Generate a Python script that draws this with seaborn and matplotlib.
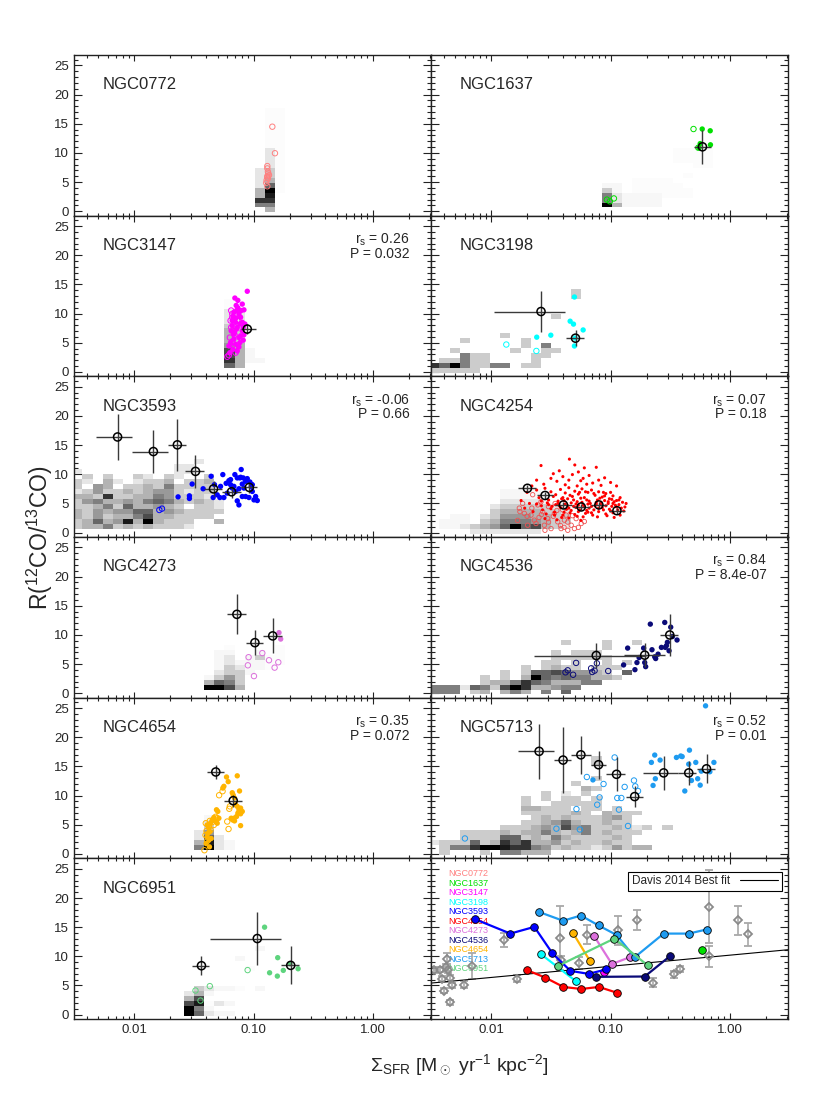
import numpy as np
import seaborn as sns
import matplotlib.pyplot as plt
from matplotlib.ticker import MultipleLocator, FixedLocator, FixedFormatter, LogLocator, NullFormatter
from matplotlib.lines import Line2D

# galaxy order as in the summary list
galaxies = ["NGC0772", "NGC1637", "NGC3147", "NGC3198", "NGC3593", "NGC4254",
            "NGC4273", "NGC4536", "NGC4654", "NGC5713", "NGC6951"]
colors = ["#ff8080", "#00e000", "#ff00ff", "#00ffff", "#0000ff", "#ff0000",
          "#dc70dc", "#0a0a78", "#ffb400", "#1e9bf0", "#5ed47e"]

# spearman stats (r_s, P) shown in some panels
stats_rs = {"NGC3147": "0.26", "NGC3593": "-0.06", "NGC4254": "0.07",
            "NGC4536": "0.84", "NGC4654": "0.35", "NGC5713": "0.52"}
stats_p = {"NGC3147": "0.032", "NGC3593": "0.66", "NGC4254": "0.18",
           "NGC4536": "8.4e-07", "NGC4654": "0.072", "NGC5713": "0.01"}

# binned means: (log10 SFR, R, x err low [dex], x err high [dex], R err)
bin_ngc1637 = [(-0.23, 11.05, 0.07, 0.07, 2.9)]
bin_ngc3147 = [(-1.053, 7.35, 0.056, 0.07, 0.9)]
bin_ngc3198 = [(-1.583, 10.36, 0.392, 0.205, 3.45), (-1.294, 5.79, 0.079, 0.07, 1.4)]
bin_ngc3593 = [(-2.14, 16.4, 0.18, 0.12, 4.0), (-1.84, 13.9, 0.177, 0.12, 3.75),
               (-1.639, 15.05, 0.081, 0.076, 4.5), (-1.487, 10.5, 0.084, 0.07, 2.8),
               (-1.336, 7.5, 0.081, 0.073, 1.3), (-1.185, 7.0, 0.078, 0.076, 1.0),
               (-1.036, 7.75, 0.073, 0.067, 1.0)]
bin_ngc4254 = [(-1.697, 7.6, 0.076, 0.072, 0.6), (-1.549, 6.37, 0.07, 0.07, 0.6),
               (-1.395, 4.75, 0.07, 0.07, 0.5), (-1.246, 4.4, 0.07, 0.07, 0.5),
               (-1.098, 4.75, 0.07, 0.07, 0.5), (-0.947, 3.76, 0.07, 0.07, 0.5)]
bin_ngc4273 = [(-1.14, 13.54, 0.081, 0.073, 3.45), (-0.989, 8.68, 0.078, 0.07, 2.1),
               (-0.84, 9.84, 0.081, 0.079, 3.0)]
bin_ngc4536 = [(-1.12, 6.48, 0.519, 0.42, 2.1), (-0.714, 6.54, 0.174, 0.168, 2.0),
               (-0.504, 10.0, 0.084, 0.07, 3.55)]
bin_ngc4654 = [(-1.317, 14.06, 0.072, 0.068, 1.2), (-1.171, 9.14, 0.078, 0.076, 1.0)]
bin_ngc5713 = [(-1.599, 17.6, 0.18, 0.123, 4.7), (-1.398, 16.1, 0.078, 0.068, 5.7),
               (-1.249, 17.0, 0.081, 0.087, 3.3), (-1.101, 15.3, 0.067, 0.065, 2.4),
               (-0.95, 13.66, 0.086, 0.068, 2.9), (-0.798, 9.84, 0.07, 0.07, 1.85),
               (-0.555, 13.9, 0.173, 0.121, 2.95), (-0.345, 13.9, 0.089, 0.065, 2.0),
               (-0.196, 14.6, 0.076, 0.07, 2.5)]
bin_ngc6951 = [(-1.437, 8.39, 0.078, 0.062, 1.6), (-0.969, 13.05, 0.398, 0.196, 4.6),
               (-0.689, 8.45, 0.084, 0.07, 3.25)]

# individual measurements: (log10 SFR, R); filled = detections, open = others
open_ngc0772 = [(-0.843, 14.5), (-0.821, 9.95), (-0.885, 7.75), (-0.885, 7.35), (-0.88, 6.77),
                (-0.885, 6.02), (-0.88, 5.61), (-0.891, 5.32), (-0.885, 5.79), (-0.871, 6.19),
                (-0.885, 4.28), (-0.894, 4.86), (-0.877, 6.48)]
filled_ngc0772 = []

filled_ngc1637 = [(-0.232, 14.1), (-0.165, 13.8), (-0.249, 11.6), (-0.163, 11.4), (-0.26, 10.9)]
open_ngc1637 = [(-0.305, 14.1), (-1.031, 2.0), (-0.972, 2.2), (-1.006, 1.7), (-0.265, 10.9)]

filled_ngc3147 = [(-1.053, 13.83), (-1.157, 12.67), (-1.132, 12.27), (-1.095, 11.63), (-1.081, 10.65),
                  (-1.146, 11.4), (-1.143, 10.53), (-1.123, 9.95), (-1.109, 9.38), (-1.165, 10.24),
                  (-1.179, 8.8), (-1.151, 8.51), (-1.115, 8.22), (-1.095, 8.51), (-1.137, 7.64),
                  (-1.095, 7.06), (-1.081, 6.37), (-1.087, 5.44), (-1.123, 5.9), (-1.165, 5.61),
                  (-1.188, 7.06), (-1.193, 5.03), (-1.151, 4.75), (-1.123, 4.28), (-1.174, 3.88),
                  (-1.199, 3.3), (-1.137, 3.59), (-1.16, 6.77), (-1.109, 6.19), (-1.179, 7.93),
                  (-1.104, 10.53), (-1.132, 11.0), (-1.171, 9.49), (-1.087, 7.64), (-1.073, 8.22),
                  (-1.207, 4.46), (-1.143, 7.35), (-1.165, 6.48), (-1.115, 5.03), (-1.148, 9.26)]
open_ngc3147 = [(-1.179, 9.38), (-1.193, 8.8), (-1.188, 7.64), (-1.171, 6.94), (-1.16, 6.37),
                (-1.199, 5.9), (-1.179, 5.21), (-1.165, 4.17), (-1.151, 3.3), (-1.207, 2.89),
                (-1.221, 2.6), (-1.188, 10.53), (-1.179, 9.95), (-1.137, 8.8)]

filled_ngc3198 = [(-1.303, 12.85), (-1.339, 8.7), (-1.311, 8.2), (-1.23, 7.2), (-1.501, 6.3),
                  (-1.619, 5.96), (-1.297, 5.8), (-1.303, 4.45)]
open_ngc3198 = [(-1.874, 4.7), (-1.622, 3.6)]

filled_ngc3593 = [(-1.515, 8.33), (-1.423, 7.52), (-1.633, 6.13), (-1.538, 6.31), (-1.538, 5.85),
                  (-1.356, 9.66), (-1.258, 9.95), (-1.207, 8.91), (-1.193, 8.22), (-1.137, 9.38),
                  (-1.104, 10.82), (-1.115, 9.38), (-1.095, 8.33), (-1.081, 7.64), (-1.067, 8.8),
                  (-1.053, 9.26), (-1.031, 8.68), (-1.011, 8.22), (-1.277, 7.93), (-1.249, 6.02),
                  (-1.221, 6.77), (-1.179, 7.64), (-1.151, 7.06), (-1.137, 5.44), (-1.123, 4.75),
                  (-1.095, 6.19), (-1.067, 6.19), (-1.039, 6.02), (-1.011, 7.06), (-0.997, 5.61),
                  (-0.969, 5.5), (-1.305, 6.48), (-1.339, 6.02), (-1.283, 6.02), (-1.328, 8.22),
                  (-1.23, 8.45), (-1.165, 7.93), (-1.087, 9.38), (-1.02, 7.93), (-1.123, 7.52),
                  (-1.193, 9.09), (-1.157, 9.95), (-1.109, 9.49), (-0.983, 6.19)]
open_ngc3593 = [(-1.79, 3.88), (-1.768, 4.11)]

filled_ngc4254 = [(-1.345, 12.6), (-1.583, 11.5), (-1.43, 10.6), (-1.22, 11.1), (-1.12, 11.2),
                  (-1.32, 9.95), (-1.27, 10.4), (-1.40, 9.6), (-1.50, 9.3), (-1.18, 9.8),
                  (-1.05, 9.4), (-1.00, 8.6), (-1.62, 9.0), (-1.45, 8.8), (-1.35, 9.0),
                  (-1.25, 8.9), (-1.15, 8.5), (-1.10, 9.0), (-1.56, 8.3), (-1.38, 8.2),
                  (-1.28, 8.0), (-1.20, 8.3), (-1.08, 8.1), (-0.95, 8.0), (-1.66, 8.0),
                  (-1.48, 10.1), (-1.30, 11.6), (-1.23, 9.3),
                  (-1.70, 6.9), (-1.62, 7.3), (-1.55, 7.6), (-1.50, 7.0), (-1.46, 6.5),
                  (-1.42, 7.4), (-1.38, 6.8), (-1.35, 7.7), (-1.32, 6.2), (-1.30, 7.1),
                  (-1.27, 6.6), (-1.24, 7.5), (-1.22, 6.0), (-1.19, 6.9), (-1.16, 7.3),
                  (-1.13, 6.4), (-1.10, 7.0), (-1.07, 6.1), (-1.04, 6.7), (-1.01, 5.8),
                  (-0.98, 6.3), (-0.95, 5.5), (-0.92, 6.0), (-0.90, 5.2), (-1.60, 6.0),
                  (-1.52, 5.6), (-1.44, 5.4), (-1.36, 5.8), (-1.28, 5.3), (-1.20, 5.6),
                  (-1.12, 5.2), (-1.05, 5.5), (-0.98, 5.0), (-1.48, 6.2), (-1.40, 6.0),
                  (-1.33, 5.1), (-1.25, 5.9), (-1.17, 5.0), (-1.09, 5.9), (-1.02, 5.3),
                  (-1.72, 4.2), (-1.65, 3.6), (-1.58, 4.6), (-1.54, 3.2), (-1.50, 4.1),
                  (-1.47, 3.5), (-1.43, 4.6), (-1.40, 3.0), (-1.37, 4.0), (-1.34, 3.4),
                  (-1.31, 4.5), (-1.28, 2.8), (-1.26, 3.9), (-1.23, 4.7), (-1.21, 3.3),
                  (-1.18, 4.2), (-1.15, 3.0), (-1.13, 4.6), (-1.10, 3.6), (-1.07, 4.3),
                  (-1.04, 3.2), (-1.01, 4.0), (-0.98, 3.4), (-0.95, 4.4), (-0.92, 3.0),
                  (-0.89, 3.7), (-1.55, 2.4), (-1.45, 2.2), (-1.35, 2.5), (-1.25, 2.1),
                  (-1.62, 4.9), (-1.52, 4.8), (-1.38, 4.9), (-1.29, 4.3), (-1.19, 4.9),
                  (-1.08, 4.8), (-0.96, 4.7), (-1.75, 5.5), (-1.68, 5.0), (-1.58, 5.4),
                  (-1.44, 5.0), (-1.42, 4.3), (-1.39, 5.5), (-1.36, 4.6), (-1.33, 3.8),
                  (-1.31, 5.6), (-1.29, 4.9), (-1.27, 3.6), (-1.24, 5.2), (-1.22, 4.4),
                  (-1.20, 3.8), (-1.18, 5.4), (-1.16, 4.5), (-1.14, 3.9), (-1.12, 4.9),
                  (-1.10, 4.2), (-1.08, 5.2), (-1.06, 3.9), (-1.04, 4.6), (-1.02, 5.0),
                  (-1.00, 3.7), (-0.99, 4.5), (-0.97, 5.3), (-0.94, 3.9), (-0.93, 4.8),
                  (-0.91, 4.2), (-1.46, 4.8), (-1.41, 5.8), (-1.34, 6.4), (-1.26, 6.9),
                  (-1.21, 7.0), (-1.14, 6.7), (-1.06, 6.9), (-1.00, 6.9), (-1.47, 3.0),
                  (-1.39, 3.5), (-1.30, 3.1), (-1.23, 2.7), (-1.16, 3.4), (-1.11, 2.7),
                  (-1.03, 2.9), (-0.97, 2.6), (-1.57, 3.9), (-1.53, 5.1), (-1.49, 4.5),
                  (-1.41, 2.6), (-1.35, 4.2), (-1.27, 4.7), (-1.19, 3.5), (-1.11, 5.6),
                  (-1.05, 6.3), (-0.99, 5.7), (-0.93, 5.6), (-0.88, 4.4), (-0.87, 5.0)]
open_ngc4254 = [(-1.765, 4.2), (-1.723, 3.3), (-1.779, 2.1), (-1.667, 3.0), (-1.61, 4.75),
                (-1.625, 1.56), (-1.569, 3.6), (-1.527, 2.4), (-1.471, 3.3), (-1.443, 1.85),
                (-1.387, 2.14), (-1.33, 1.27), (-1.415, 0.69), (-1.359, 0.4), (-1.289, 2.4),
                (-1.246, 1.56), (-1.499, 0.69), (-1.555, 1.27), (-1.695, 1.27), (-1.737, 5.0),
                (-1.653, 6.5), (-1.583, 5.3), (-1.521, 4.46), (-1.465, 5.0), (-1.401, 3.9),
                (-1.639, 2.14), (-1.303, 0.69), (-1.373, 3.0), (-1.70, 2.8), (-1.60, 2.6),
                (-1.52, 1.8), (-1.48, 2.8), (-1.42, 1.2), (-1.36, 1.8), (-1.32, 2.9),
                (-1.27, 0.9), (-1.22, 1.9), (-1.58, 3.1), (-1.66, 4.2), (-1.45, 3.8),
                (-1.39, 0.9), (-1.55, 0.4), (-1.76, 3.6)]

filled_ngc4273 = [(-0.787, 10.4), (-0.773, 9.3)]
open_ngc4273 = [(-1.042, 6.19), (-0.927, 6.89), (-1.048, 4.8), (-0.997, 2.95), (-0.871, 5.67),
                (-0.793, 5.32), (-0.824, 4.4)]

filled_ngc4536 = [(-0.667, 11.86), (-0.546, 12.15), (-0.857, 7.75), (-0.723, 7.75), (-0.653, 7.47),
                  (-0.602, 6.71), (-0.574, 7.87), (-0.532, 8.16), (-0.51, 7.29), (-0.524, 8.74),
                  (-0.443, 9.14), (-0.496, 11.34), (-0.761, 6.13), (-0.779, 5.27), (-0.714, 5.27),
                  (-0.63, 6.25), (-0.622, 5.96), (-0.706, 4.57), (-0.796, 4.05), (-0.891, 4.86),
                  (-0.482, 9.72), (-0.541, 7.87)]
open_ngc4536 = [(-1.289, 5.21), (-1.378, 3.59), (-1.314, 3.18), (-1.359, 3.94), (-1.163, 4.28),
                (-1.154, 3.65), (-1.115, 5.15), (-1.02, 3.82), (-1.134, 3.88)]

filled_ngc4654 = [(-1.227, 13.2), (-1.137, 13.4), (-1.213, 12.4), (-1.249, 11.6), (-1.258, 11.3),
                  (-1.179, 10.5), (-1.171, 10.1), (-1.16, 9.6), (-1.118, 10.8), (-1.151, 8.45),
                  (-1.137, 8.16), (-1.123, 7.58), (-1.109, 6.89), (-1.109, 7.87), (-1.095, 7.29),
                  (-1.132, 7.0), (-1.165, 6.13), (-1.16, 5.67), (-1.176, 5.84), (-1.109, 4.86),
                  (-1.311, 7.58), (-1.30, 7.29), (-1.291, 6.13), (-1.314, 5.56), (-1.305, 5.27),
                  (-1.188, 6.13), (-1.143, 6.42), (-1.389, 4.98), (-1.375, 4.4), (-1.361, 5.27),
                  (-1.347, 5.84), (-1.333, 6.25), (-1.367, 3.82), (-1.389, 2.95), (-1.375, 2.37),
                  (-1.398, 1.79), (-1.37, 1.22), (-1.356, 2.66), (-1.384, 3.53)]
open_ngc4654 = [(-1.289, 10.07), (-1.26, 10.76), (-1.204, 7.75), (-1.199, 8.16), (-1.221, 5.56),
                (-1.21, 4.28), (-1.412, 0.64), (-1.319, 6.37), (-1.347, 5.44), (-1.375, 4.69),
                (-1.395, 3.94), (-1.403, 3.24), (-1.389, 2.2), (-1.361, 4.11), (-1.333, 4.98),
                (-1.339, 5.84), (-1.305, 6.13), (-1.401, 5.27), (-1.367, 5.67)]

filled_ngc5713 = [(-0.204, 25.4), (-0.339, 17.8), (-0.412, 16.8), (-0.40, 16.7), (-0.448, 16.55),
                  (-0.585, 16.1), (-0.63, 16.96), (-0.658, 15.7), (-0.345, 15.4), (-0.286, 15.7),
                  (-0.134, 15.7), (-0.168, 14.1), (-0.24, 14.2), (-0.322, 12.6), (-0.27, 12.9),
                  (-0.249, 11.8), (-0.378, 10.8), (-0.644, 11.75), (-0.625, 12.9), (-1.148, 12.7)]
open_ngc5713 = [(-0.966, 16.55), (-1.199, 13.2), (-1.059, 12.0), (-0.804, 12.6), (-0.793, 11.6),
                (-0.77, 10.8), (-0.882, 11.5), (-1.092, 9.7), (-0.944, 9.6), (-0.91, 9.6),
                (-1.112, 8.45), (-1.286, 7.7), (-0.93, 7.6), (-1.454, 4.34), (-1.258, 4.2),
                (-0.854, 4.8), (-2.221, 2.66)]

filled_ngc6951 = [(-0.908, 15.0), (-0.798, 9.77), (-0.751, 7.59), (-0.866, 7.18), (-0.801, 6.61),
                  (-0.627, 7.87), (-0.695, 8.74)]
open_ngc6951 = [(-1.05, 7.64), (-1.367, 4.89), (-1.487, 4.14), (-1.445, 2.41)]

# pixel density maps: (first column index, rows from top to bottom)
# columns are 0.085 dex wide from log SFR = -2.52, rows 0.85 wide from R = -0.2
heat_ngc0772 = (18, [".aa", ".aa", ".aa", ".aa", ".aa", ".aa", ".aa", ".aa",
                     ".1a", ".1a", ".1a", ".1a", "12a", "12a", "13a", "16a", "3#a",
                     "39", "88", "55", ".3"])
heat_ngc1637 = (17, [".........aa", ".......aaaa", ".......aaaa", ".......aaaa", ".........aa",
                     "", "........a", "...aaaa", "bb.aaaaa", "2b.aaaaaa", "51bbbbaaa",
                     "51bbbb", "#3bbbb", ""])
heat_ngc3147 = (15, ["a", "a", "11", "11", "11", "22", "32", "32", "32", "43",
                     "73b", "73b", "83bb", "63", ""])
heat_ngc3198 = (0, ["..............2", "..............2", "", "", "", "............2",
                    "", "", "", ".......2", "...2.....2", ".........2.5", "..2.....2..22",
                    "...522....22", ".22522....2", "86#52255.22", "22222"])
heat_ngc3593 = (0, ["............1", "..........11", "1.........11", ".2.2..21.21..2",
                    "21.31.1223.223", "2.43.223252222", "12422323442122", "33282233542221",
                    "245334356532321", "22352633432.221", "324344663432222", "32423357332222",
                    "2363493#3222..3", "233523232221", ""])
heat_ngc4254 = (0, [".......bbbb", ".......bbbb", ".......1111b", "......1222221",
                    "......23333221", "..bb.124443322", ".bbb.235554322", ".bb12346#67321",
                    "....1111111"])
heat_ngc4273 = (13, ["..a....a", ".bb..b.a", ".b1.b2aa", ".b1bbbaa", ".b21bba", ".122b",
                     "b242", "3652", "##73", ""])
heat_ngc4536 = (0, [".............2...2..2", ".................2", "............2.222",
                    "............222222", "...........22.2..2.2", ".........2.2322.222",
                    ".......2.266764432.6", ".....2.2.3#65655332", ".....233586533355",
                    "55516527#833455", "555.23.353.5.6"])
heat_ngc4654 = (12, [".b", ".1", ".2", "14", "161", "391b", "5#1b", ""])
heat_ngc5713 = (0, ["................2", "................2", "", "", "................2",
                    "..............2", "...............32", "...........2.1.2",
                    ".........2.2.22.2", ".........2..22222", ".........33222.22.2",
                    ".........2222232.3222", "..........2323222342", ".........22346322322",
                    ".......222343745223212.2", "...222232335323523222", "...22226623253222232",
                    "12226238683342322322", ".2558##988542322124233", ".2...2.55333"])
heat_ngc6951 = (11, [".......b", "", ".....b", "", "......a", "", "", "", ".21bba.b",
                     "13b", "37", "79a1b", "#5b", "#61bb"])

# summary panel: comparison sample (log10 SFR, R, R err) and Davis 2014 fit
ref_lx = [-2.479, -2.429, -2.409, -2.395, -2.381, -2.373, -2.361, -2.345, -2.325, -2.345,
          -2.227, -2.165, -1.891, -1.784, -1.42, -1.415, -1.266, -1.196, -0.938, -0.779,
          -0.644, -0.468, -0.415, -0.176, -0.174, 0.07, 0.148]
ref_r = [7.59, 7.7, 6.15, 4.14, 8.16, 9.6, 7.7, 6.26, 5.0, 2.13,
         5.11, 8.33, 12.76, 6.15, 13.2, 9.3, 8.85, 13.7, 14.5, 16.2,
         5.46, 6.9, 7.76, 18.5, 10.0, 16.2, 13.8]
ref_err = [0.5, 0.4, 0.5, 0.5, 0.6, 1.0, 0.5, 0.6, 0.5, 0.4,
           0.6, 2.2, 1.2, 0.6, 5.5, 0.8, 1.0, 1.6, 2.5, 1.7,
           0.8, 0.6, 0.5, 6.3, 1.8, 2.5, 2.0]
fit_intercept = 10.2
fit_slope = 1.91

panel_layout = [["NGC0772", "NGC1637"], ["NGC3147", "NGC3198"], ["NGC3593", "NGC4254"],
                ["NGC4273", "NGC4536"], ["NGC4654", "NGC5713"], ["NGC6951", "summary"]]

filled_pts = {"NGC0772": filled_ngc0772, "NGC1637": filled_ngc1637, "NGC3147": filled_ngc3147,
              "NGC3198": filled_ngc3198, "NGC3593": filled_ngc3593, "NGC4254": filled_ngc4254,
              "NGC4273": filled_ngc4273, "NGC4536": filled_ngc4536, "NGC4654": filled_ngc4654,
              "NGC5713": filled_ngc5713, "NGC6951": filled_ngc6951}
open_pts = {"NGC0772": open_ngc0772, "NGC1637": open_ngc1637, "NGC3147": open_ngc3147,
            "NGC3198": open_ngc3198, "NGC3593": open_ngc3593, "NGC4254": open_ngc4254,
            "NGC4273": open_ngc4273, "NGC4536": open_ngc4536, "NGC4654": open_ngc4654,
            "NGC5713": open_ngc5713, "NGC6951": open_ngc6951}
binned = {"NGC0772": [], "NGC1637": bin_ngc1637, "NGC3147": bin_ngc3147, "NGC3198": bin_ngc3198,
          "NGC3593": bin_ngc3593, "NGC4254": bin_ngc4254, "NGC4273": bin_ngc4273,
          "NGC4536": bin_ngc4536, "NGC4654": bin_ngc4654, "NGC5713": bin_ngc5713,
          "NGC6951": bin_ngc6951}
heats = {"NGC0772": heat_ngc0772, "NGC1637": heat_ngc1637, "NGC3147": heat_ngc3147,
         "NGC3198": heat_ngc3198, "NGC3593": heat_ngc3593, "NGC4254": heat_ngc4254,
         "NGC4273": heat_ngc4273, "NGC4536": heat_ngc4536, "NGC4654": heat_ngc4654,
         "NGC5713": heat_ngc5713, "NGC6951": heat_ngc6951}
color_of = dict(zip(galaxies, colors))

level_map = {str(d): d / 10 for d in range(1, 10)}
level_map.update({"#": 1.0, "a": 0.015, "b": 0.035})

XLIM = (10 ** -2.505, 10 ** 0.487)
YLIM = (-0.75, 26.8)


def heat_grid(k0, rows):
    nrow = len(rows)
    arr = np.full((nrow, 36), np.nan)
    for i, row in enumerate(rows):
        j = nrow - 1 - i
        for p, ch in enumerate(row):
            if ch in level_map:
                arr[j, k0 + p] = level_map[ch]
    return arr


def draw_binned(ax, pts):
    if not pts:
        return
    b = np.array(pts)
    x = 10 ** b[:, 0]
    xlo = x - 10 ** (b[:, 0] - b[:, 2])
    xhi = 10 ** (b[:, 0] + b[:, 3]) - x
    ax.errorbar(x, b[:, 1], xerr=[xlo, xhi], yerr=b[:, 4], fmt="none",
                ecolor="#3a3a3a", elinewidth=1.0, capsize=0, zorder=4)
    ax.scatter(x, b[:, 1], s=34, facecolors="none", edgecolors="black",
               linewidths=1.1, zorder=5)


sns.set_style("ticks")
plt.rcParams["font.family"] = ["Liberation Sans", "DejaVu Sans"]
plt.rcParams["mathtext.fontset"] = "custom"
plt.rcParams["mathtext.rm"] = "Liberation Sans"
plt.rcParams["mathtext.it"] = "Liberation Sans:italic"

fig, axes = plt.subplots(6, 2, figsize=(8.3, 11.08), dpi=100, sharex=True, sharey=True)
fig.subplots_adjust(left=0.0892, right=0.9494, top=0.9504, bottom=0.0803,
                    wspace=0, hspace=0)

x_edges = 10 ** (-2.52 + 0.085 * np.arange(37))

for r, row_names in enumerate(panel_layout):
    for c, name in enumerate(row_names):
        ax = axes[r, c]
        ax.set_xscale("log")

        if name != "summary":
            col = color_of[name]
            k0, rows = heats[name]
            grid = heat_grid(k0, rows)
            y_edges = -0.2 + 0.85 * np.arange(grid.shape[0] + 1)
            ax.pcolormesh(x_edges, y_edges, np.ma.masked_invalid(grid), cmap="gray_r",
                          vmin=0, vmax=1, shading="flat", zorder=1)

            small = name == "NGC4254"
            if open_pts[name]:
                o = np.array(open_pts[name])
                ax.scatter(10 ** o[:, 0], o[:, 1], s=10 if small else 15, facecolors="none",
                           edgecolors="#f05050" if small else col, linewidths=0.6 if small else 0.7,
                           zorder=2)
            if filled_pts[name]:
                f = np.array(filled_pts[name])
                sns.scatterplot(x=10 ** f[:, 0], y=f[:, 1], ax=ax, color=col,
                                s=5 if small else 15, edgecolor="none", legend=False, zorder=3)
            draw_binned(ax, binned[name])

            ax.text(0.08, 0.815, name, transform=ax.transAxes, fontsize=12, va="center")
            if name in stats_rs:
                ax.text(0.94, 0.85, r"r$_{\rm s}$ = " + stats_rs[name], transform=ax.transAxes,
                        fontsize=10, ha="right", va="center")
                ax.text(0.94, 0.764, "P = " + stats_p[name], transform=ax.transAxes,
                        fontsize=10, ha="right", va="center")
        else:
            # comparison sample
            ax.errorbar(10 ** np.array(ref_lx), ref_r, yerr=ref_err, fmt="D", ms=4.5,
                        mfc="none", mec="#8a8a8a", mew=1.3, ecolor="#a8a8a8",
                        elinewidth=1.2, capsize=3, zorder=2)
            xs = np.array(XLIM)
            ax.plot(xs, fit_intercept + fit_slope * np.log10(xs), color="black", lw=0.8, zorder=2)

            for g in galaxies:
                if not binned[g]:
                    continue
                b = np.array(binned[g])
                ax.plot(10 ** b[:, 0], b[:, 1], color=color_of[g], lw=1.6, marker="o",
                        ms=5.5, mec="black", mew=0.6, zorder=3)

            for i, g in enumerate(galaxies):
                ax.text(0.047, 0.905 - i * 0.0591, g, color=color_of[g], fontsize=6.5,
                        transform=ax.transAxes, va="center", zorder=1)

            leg = ax.legend([Line2D([], [], color="black", lw=0.8)], ["Davis 2014 Best fit"],
                            loc="upper right", bbox_to_anchor=(0.982, 0.918), markerfirst=False,
                            frameon=True, fancybox=False, edgecolor="black", framealpha=1,
                            fontsize=8.5, handlelength=3.2, borderpad=0.3, borderaxespad=0,
                            handletextpad=0.9)
            leg.get_frame().set_linewidth(0.8)

        ax.set_xlim(*XLIM)
        ax.set_ylim(*YLIM)
        ax.yaxis.set_major_locator(FixedLocator([0, 5, 10, 15, 20, 25]))
        ax.yaxis.set_minor_locator(MultipleLocator(1))
        ax.xaxis.set_major_locator(FixedLocator([0.01, 0.1, 1.0]))
        ax.xaxis.set_major_formatter(FixedFormatter(["0.01", "0.10", "1.00"]))
        ax.xaxis.set_minor_locator(LogLocator(base=10, subs=np.arange(2, 10)))
        ax.xaxis.set_minor_formatter(NullFormatter())
        ax.tick_params(which="both", direction="in", top=True, right=True,
                       color="#222222", width=0.8, labelsize=9.5)
        ax.tick_params(axis="x", which="major", length=4)
        ax.tick_params(axis="x", which="minor", length=2.5)
        ax.tick_params(axis="y", which="major", length=6)
        ax.tick_params(axis="y", which="minor", length=3)
        for sp in ax.spines.values():
            sp.set_linewidth(1.0)
            sp.set_color("#222222")
        ax.set_xlabel("")
        ax.set_ylabel("")

fig.text(0.048, 0.515, r"R($^{12}$CO/$^{13}$CO)", rotation=90, fontsize=16.5,
         ha="center", va="center")
fig.text(0.553, 0.039, r"$\Sigma_{\rm SFR}$ [M$_\odot$ yr$^{-1}$ kpc$^{-2}$]", fontsize=14,
         ha="center", va="center")

fig.savefig("out.png", dpi=100)
